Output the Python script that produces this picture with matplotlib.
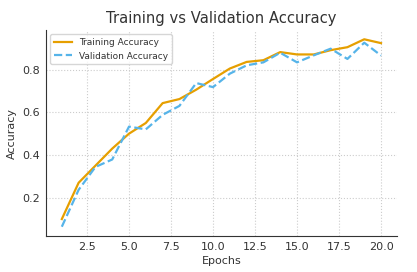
import matplotlib
matplotlib.use("Agg")
import matplotlib.pyplot as plt

epochs = list(range(1, 21))
train_acc = [0.10, 0.27, 0.35, 0.43, 0.50, 0.55, 0.643, 0.662, 0.706, 0.756,
             0.805, 0.836, 0.844, 0.882, 0.871, 0.871, 0.891, 0.905, 0.942, 0.924]
val_acc = [0.064, 0.237, 0.344, 0.379, 0.533, 0.520, 0.588, 0.630, 0.737, 0.718,
           0.781, 0.820, 0.834, 0.879, 0.834, 0.867, 0.898, 0.850, 0.926, 0.866]

text_color = "#333333"
plt.rcParams["text.color"] = text_color
plt.rcParams["axes.labelcolor"] = text_color
plt.rcParams["xtick.color"] = text_color
plt.rcParams["ytick.color"] = text_color

fig, ax = plt.subplots(figsize=(4.17, 2.72), dpi=100)
fig.subplots_adjust(left=0.11, right=0.952, top=0.89, bottom=0.132)

ax.plot(epochs, train_acc, color="#E69F00", lw=1.6, label="Training Accuracy")
ax.plot(epochs, val_acc, color="#56B4E9", lw=1.6, ls="--", label="Validation Accuracy")

ax.set_title("Training vs Validation Accuracy", fontsize=10.6, pad=5)
ax.set_xlabel("Epochs", fontsize=8, labelpad=3)
ax.set_ylabel("Accuracy", fontsize=8, labelpad=4)
ax.tick_params(labelsize=8, length=0, pad=4)
ax.grid(True, ls=":", color="#cccccc", lw=0.8)
for s in ["top", "right"]:
    ax.spines[s].set_visible(False)
for s in ["left", "bottom"]:
    ax.spines[s].set_color("#333333")
ax.legend(loc="upper left", fontsize=6.5, frameon=True)

fig.savefig("out.png", dpi=100)
